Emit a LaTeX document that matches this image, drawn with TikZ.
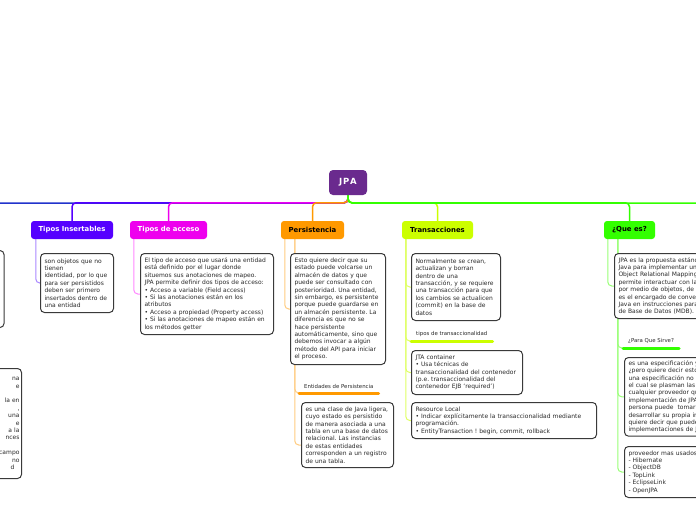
\documentclass[tikz,border=0pt]{standalone}
\usepackage{fontspec}
\setmainfont{DejaVu Sans}
\frenchspacing
\usetikzlibrary{calc}
\pgfdeclarelayer{paper}
\pgfdeclarelayer{lines}
\pgfsetlayers{paper,lines,main}
\definecolor{cJPA}{HTML}{6A2A8E}
\definecolor{cTI}{HTML}{5500FF}
\definecolor{cTIl}{HTML}{AA88FF}
\definecolor{cTA}{HTML}{EE00EE}
\definecolor{cTAl}{HTML}{FF88FF}
\definecolor{cP}{HTML}{FF9900}
\definecolor{cPl}{HTML}{FFCC80}
\definecolor{cT}{HTML}{CCFF00}
\definecolor{cTl}{HTML}{E0FF66}
\definecolor{cQ}{HTML}{33FF00}
\definecolor{cQl}{HTML}{99FF77}
\definecolor{cL}{HTML}{2233CC}
\definecolor{cBorder}{HTML}{3A3A3A}
\definecolor{cText}{HTML}{2A2A2A}
\tikzset{
 topic/.style={rounded corners=3pt, font=\fontsize{6.9}{8}\selectfont\bfseries, minimum height=18pt, inner sep=0pt},
 leaf/.style={draw=cBorder, line width=1pt, fill=white, rounded corners=4pt, anchor=north west, align=left, inner xsep=4pt, inner ysep=3pt, text=cText, font=\fontsize{6}{7.4}\selectfont},
 sublabel/.style={anchor=south west, inner xsep=5pt, inner ysep=4pt, text=cText, font=\fontsize{5.4}{6.5}\selectfont},
 mainline/.style={line width=1.5pt, rounded corners=4pt},
 childline/.style={line width=1pt, rounded corners=4pt},
 uline/.style={line width=3pt, line cap=round},
}
\begin{document}
\begin{tikzpicture}[x=1pt,y=-1pt]
\useasboundingbox (0,0) rectangle (696,520);
\begin{pgfonlayer}{paper}
\fill[white] (0,0) rectangle (696,520);
\end{pgfonlayer}
\clip (0,0) rectangle (696,520);

% root and topics
\node[topic, fill=cJPA, text=white, minimum width=38pt, minimum height=25pt, rounded corners=4pt, font=\fontsize{8.5}{9}\selectfont\bfseries] (jpa) at (348,182.5) {J\kern0.8pt P\kern0.8pt A};
\node[topic, fill=cTI, text=white, minimum width=82pt] (ti) at (72,230) {Tipos Insertables};
\node[topic, fill=cTA, text=white, minimum width=77pt] (ta) at (168.5,230) {Tipos de acceso};
\node[topic, fill=cP, text=black, minimum width=63pt] (pe) at (312.5,230) {Persistencia};
\node[topic, fill=cT, text=black, minimum width=71pt] (tr) at (437.5,230) {Transacciones};
\node[topic, fill=cQ, text=black, minimum width=51pt] (qe) at (629.5,230) {¿Que es?};

% left partial boxes
\node[leaf, anchor=north east, minimum width=100pt, minimum height=77pt] (lefta) at (4.5,250) {};
\node[leaf, anchor=north east, align=right, inner xsep=2pt, text width=110pt, minimum height=110pt] (leftb) at (22,368) {na\hspace*{2pt}\\ e\hspace*{5pt}\\ \mbox{}\\ la en\hspace*{2pt}\\ ,\hspace*{7pt}\\ una\hspace*{2pt}\\ e\hspace*{5pt}\\ a la\hspace*{3pt}\\ nces\hspace*{2pt}\\ \mbox{}\\ campo\\ no\hspace*{2pt}\\ d\hspace*{5pt}};

% leaves
\node[leaf, text width=65pt, minimum height=59pt] (til) at (40,253) {son objetos que no\\ tienen\\ identidad, por lo que\\ para ser persistidos\\ deben ser primero\\ insertados dentro de\\ una entidad};
\node[leaf, text width=125pt, minimum height=81pt] (tal) at (140,253) {El tipo de acceso que usará una entidad\\ está definido por el lugar donde\\ situemos sus anotaciones de mapeo.\\ JPA permite definir dos tipos de acceso:\\ • Acceso a variable (Field access)\\ • Si las anotaciones están en los\\ atributos\\ • Acceso a propiedad (Property access)\\ • Si las anotaciones de mapeo están en\\ los métodos getter};
\node[leaf, text width=87pt, minimum height=111pt] (pel) at (290,253) {Esto quiere decir que su\\ estado puede volcarse un\\ almacén de datos y que\\ puede ser consultado con\\ posterioridad. Una entidad,\\ sin embargo, es persistente\\ porque puede guardarse en\\ un almacén persistente. La\\ diferencia es que no se\\ hace persistente\\ automáticamente, sino que\\ debemos invocar a algún\\ método del API para iniciar\\ el proceso.};
\node[sublabel] (ent) at (299,393) {Entidades de Persistencia};
\node[leaf, text width=84pt, minimum height=65pt] (entl) at (301,402) {es una clase de Java ligera,\\ cuyo estado es persistido\\ de manera asociada a una\\ tabla en una base de datos\\ relacional. Las instancias\\ de estas entidades\\ corresponden a un registro\\ de una tabla.};
\node[leaf, text width=81pt, minimum height=67pt] (trl) at (411,253) {Normalmente se crean,\\ actualizan y borran\\ dentro de una\\ transacción, y se requiere\\ una transacción para que\\ los cambios se actualicen\\ (commit) en la base de\\ datos};
\node[sublabel] (tsub) at (411,341) {tipos de transaccionalidad};
\node[leaf, text width=103pt, minimum height=44pt] (jta) at (411,350) {JTA container\\ • Usa técnicas de\\ transaccionalidad del contenedor\\ (p.e. transaccionalidad del\\ contenedor EJB `required')};
\node[leaf, text width=177pt, minimum height=36pt] (rl) at (411,402) {Resource Local\\ • Indicar explícitamente la transaccionalidad mediante\\ programación.\\ • EntityTransaction ! begin, commit, rollback};
\node[leaf, text width=170pt, minimum height=65pt] (qel) at (614,253) {JPA es la propuesta estándar que ofrece\\ Java para implementar un Framework\\ Object Relational Mapping (ORM), que\\ permite interactuar con la base de datos\\ por medio de objetos, de esta forma, JPA\\ es el encargado de convertir los objetos\\ Java en instrucciones para el Manejador\\ de Base de Datos (MDB).};
\node[sublabel] (para) at (623,348) {¿Para Que Sirve?};
\node[leaf, text width=180pt, minimum height=78pt] (pqs) at (624,357) {es una especificación y no una librería\\ ¿pero quiere decir esto?, que JPA es\\ una especificación no es más que un documento en\\ el cual se plasman las reglas que debe cumplir\\ cualquier proveedor que desee desarrollar una\\ implementación de JPA, de tal forma que\\ persona puede\ \ tomar la especificación y\\ desarrollar su propia implementación, esto\\ quiere decir que pueden existir varias\\ implementaciones de JPA.};
\node[leaf, text width=90pt, minimum height=51pt] (prov) at (624,446) {proveedor mas usados:\\ - Hibernate\\ - ObjectDB\\ - TopLink\\ - EclipseLink\\ - OpenJPA};

% underlines
\draw[uline, cP] (ent.south west) -- (ent.south east);
\draw[uline, cT] (tsub.south west) -- (tsub.south east);
\draw[uline, cQ] (para.south west) -- (para.south east);

\begin{pgfonlayer}{lines}
\coordinate (hub) at (348,203);
\coordinate (offL) at (-10,203);
\coordinate (offR) at (706,203);
\draw[mainline, cL] (jpa.south) -- (hub) -- (offL);
\draw[mainline, cTI] (jpa.south) |- ($(ti.north)+(0,-18)$) -- (ti.north);
\draw[mainline, cTA] (jpa.south) |- ($(ta.north)+(0,-18)$) -- (ta.north);
\draw[mainline, cP] (jpa.south) |- ($(pe.north)+(0,-18)$) -- (pe.north);
\draw[mainline, cT] (jpa.south) |- ($(tr.north)+(0,-18)$) -- (tr.north);
\draw[mainline, cQ] (jpa.south) -- (hub) -- (offR);
\draw[mainline, cQ] (jpa.south) |- ($(qe.north)+(0,-18)$) -- (qe.north);

\draw[childline, cTIl] ($(ti.south west)+(5,0)$) |- (til.west);
\draw[childline, cTAl] ($(ta.south west)+(4,0)$) |- (tal.west);
\draw[childline, cPl] ($(pe.south west)+(4,0)$) |- (pel.west);
\draw[childline, cPl] ($(pe.south west)+(14,0)$) |- (ent.south west);
\draw[childline, cPl] ($(pe.south west)+(14,0)$) |- ($(entl.west)+(0,10)$);
\draw[childline, cTl] ($(tr.south west)+(4,0)$) |- (trl.west);
\draw[childline, cTl] ($(tr.south west)+(4,0)$) |- (tsub.south west);
\draw[childline, cTl] ($(tr.south west)+(4,0)$) |- (jta.west);
\draw[childline, cTl] ($(tr.south west)+(4,0)$) |- (rl.west);
\draw[childline, cQl] ($(qe.south west)+(4,0)$) |- (qel.west);
\draw[childline, cQl] ($(qe.south west)+(14,0)$) |- (para.south west);
\draw[childline, cQl] ($(qe.south west)+(14,0)$) |- (pqs.west);
\draw[childline, cQl] ($(qe.south west)+(14,0)$) |- (prov.west);
\end{pgfonlayer}
\end{tikzpicture}
\end{document}
